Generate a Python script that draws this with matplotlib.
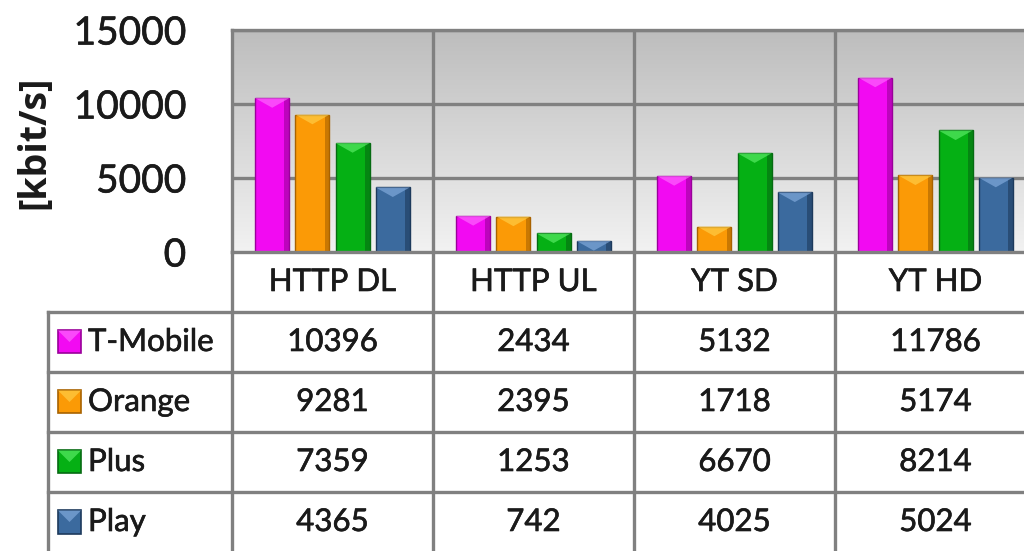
import numpy as np
import matplotlib.pyplot as plt
from matplotlib.colors import LinearSegmentedColormap
from matplotlib.patches import Rectangle, Polygon
import matplotlib.patheffects as pe

categories = ["HTTP DL", "HTTP UL", "YT SD", "YT HD"]
operators = ["T-Mobile", "Orange", "Plus", "Play"]
t_mobile = [10396, 2434, 5132, 11786]
orange = [9281, 2395, 1718, 5174]
plus = [7359, 1253, 6670, 8214]
play = [4365, 742, 4025, 5024]
y_ticks = [0, 5000, 10000, 15000]

series = [t_mobile, orange, plus, play]
colors = ["#f20af2", "#fb9a06", "#05b014", "#3b6a9e"]
edges = ["#9a009a", "#a86200", "#066b12", "#1d3a5c"]
tips = ["#ff6cff", "#ffd04a", "#5ef06a", "#86aee0"]

plt.rcParams['font.family'] = ['Lato', 'DejaVu Sans']
grid_c = "#808080"
txt_c = "#1a1a1a"
heavy = [pe.withStroke(linewidth=0.45, foreground=txt_c)]

W, H = 1024, 551
fig = plt.figure(figsize=(W / 100, H / 100), dpi=100)


def fx(px):
    return px / W


def fy(py):
    return 1 - py / H


col_w = 201
left, top, base = 232, 30, 252
ax = fig.add_axes([fx(left), fy(base), fx(4 * col_w), (base - top) / H])
ax.set_xlim(0, 4)
ax.set_ylim(0, 15000)

# gray gradient background
grad = np.linspace(0, 1, 256).reshape(-1, 1)
cmap = LinearSegmentedColormap.from_list("g", ["#f2f2f2", "#bdbdbd"])
ax.imshow(grad, extent=[0, 4, 0, 15000], aspect="auto", cmap=cmap, origin="lower", zorder=0)

for y in y_ticks[1:]:
    ax.axhline(y, color=grid_c, lw=2.4, zorder=1)
for x in range(1, 4):
    ax.axvline(x, color=grid_c, lw=2.4, zorder=1)

bw = 0.17
for j, vals in enumerate(series):
    xs = np.arange(len(categories)) + 0.5 + (j - 1.5) * 0.2
    ax.bar(xs, vals, width=bw, color=colors[j], edgecolor=edges[j], lw=1.0, zorder=3)
    # darker right side, like the bevel of the original
    ax.bar(xs + bw / 2 - 0.012, vals, width=0.024, color=edges[j], alpha=0.6, lw=0, zorder=3.5)
    for x, v in zip(xs, vals):
        d = min(650, v)
        ax.add_patch(Polygon([(x - bw / 2, v), (x + bw / 2, v), (x, v - d)], closed=True,
                             facecolor=tips[j], edgecolor="none", alpha=0.65, zorder=4))

for s in ["top", "left", "right"]:
    ax.spines[s].set_color(grid_c)
    ax.spines[s].set_linewidth(2.4)
ax.spines["bottom"].set_visible(False)
ax.set_xticks([])
ax.set_yticks(y_ticks)
ax.set_yticklabels([str(t) for t in y_ticks], fontsize=28, color=txt_c)
for t in ax.get_yticklabels():
    t.set_path_effects(heavy)
ax.tick_params(axis="y", length=0, pad=33)
fig.text(fx(34), fy(142), "[kbit/s]", rotation=90, fontsize=27, fontweight="bold",
         family=["Open Sans", "DejaVu Sans"], color=txt_c, ha="center", va="center")

# data table under the plot
leg_w = (232 - 48) / col_w
tax = fig.add_axes([fx(48), fy(552), fx(988), 300 / H])
tax.set_xlim(-leg_w, 4)
tax.set_ylim(5, 0)
tax.axis("off")
lw = 2.4
tax.plot([0, 4], [0, 0], color=grid_c, lw=lw, clip_on=False)
for r in range(1, 5):
    tax.plot([-leg_w, 4], [r, r], color=grid_c, lw=lw, clip_on=False)
tax.plot([-leg_w, -leg_w], [1, 5], color=grid_c, lw=lw, clip_on=False)
for c in range(0, 4):
    tax.plot([c, c], [0, 5], color=grid_c, lw=lw, clip_on=False)

fs = 22.5
for i, cat in enumerate(categories):
    tax.text(i + 0.5, 0.5, cat, ha="center", va="center", fontsize=fs, color=txt_c,
             path_effects=heavy)
for j, (name, vals) in enumerate(zip(operators, series)):
    yc = j + 1.5
    kx = -leg_w + 10 / col_w
    tax.add_patch(Rectangle((kx, yc - 11.5 / 60), 23 / col_w, 23 / 60, facecolor=colors[j],
                            edgecolor=edges[j], lw=1.2))
    tax.add_patch(Polygon([(kx, yc - 11.5 / 60), (kx + 23 / col_w, yc - 11.5 / 60),
                           (kx + 11.5 / col_w, yc)], closed=True, facecolor=tips[j],
                          edgecolor="none", alpha=0.65))
    tax.text(-leg_w + 40 / col_w, yc, name, ha="left", va="center", fontsize=fs, color=txt_c,
             path_effects=heavy)
    for i, v in enumerate(vals):
        tax.text(i + 0.5, yc, str(v), ha="center", va="center", fontsize=fs, color=txt_c,
                 path_effects=heavy)

fig.savefig("out.png", dpi=100)
